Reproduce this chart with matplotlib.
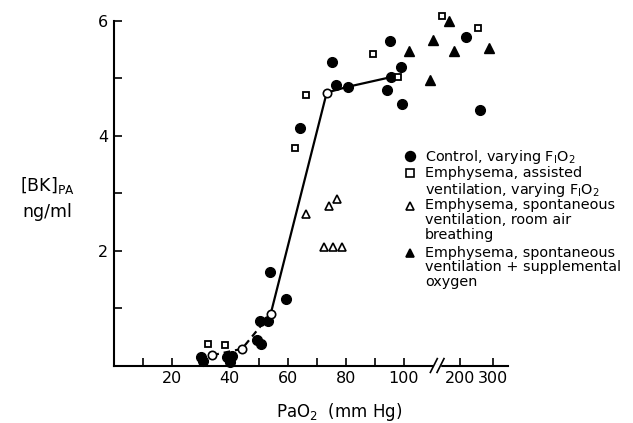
import numpy as np
import matplotlib
matplotlib.use("Agg")
import matplotlib.pyplot as plt
from matplotlib.lines import Line2D

plt.rcParams['font.family'] = ['DejaVu Sans']
plt.rcParams['mathtext.default'] = 'regular'

# control, varying FiO2 (filled circles)
control_x = [30.0, 30.8, 39.2, 40.8, 40.0, 49.3, 50.7, 50.4, 53.0, 53.9, 59.4, 64.2,
             75.2, 76.7, 80.6, 95.1, 99.1, 95.6, 94.3, 99.3, 214.6, 253.7]
control_y = [0.15, 0.07, 0.15, 0.16, 0.06, 0.44, 0.37, 0.78, 0.78, 1.63, 1.16, 4.14,
             5.28, 4.88, 4.85, 5.64, 5.20, 5.02, 4.80, 4.55, 5.72, 4.45]

# emphysema, assisted ventilation (open squares)
assisted_x = [32.6, 38.3, 62.3, 66.3, 89.3, 97.8, 159.6, 247.6]
assisted_y = [0.37, 0.35, 3.79, 4.71, 5.43, 5.03, 6.09, 5.88]

# emphysema, spontaneous, room air (open triangles)
room_air_x = [66.2, 74.3, 76.9, 72.5, 75.4, 78.6]
room_air_y = [2.63, 2.77, 2.90, 2.06, 2.06, 2.06]

# emphysema, spontaneous + O2 (filled triangles)
oxygen_x = [174.6, 142.3, 107.0, 185.6, 285.7, 137.0]
oxygen_y = [6.00, 5.66, 5.47, 5.47, 5.53, 4.97]

# mean curve (open circles + lines)
mean_x = [34.0, 44.2, 54.1, 73.4]
mean_y = [0.18, 0.29, 0.90, 4.75]
dashed_x = [34.0, 44.2, 54.1]
dashed_y = [0.18, 0.29, 0.90]
solid_x = [54.1, 73.4, 80.6, 95.6]
solid_y = [0.90, 4.75, 4.85, 5.02]

x_ticks = [10, 20, 30, 40, 50, 60, 70, 80, 90, 100, 200, 300]
x_labels = ['', '20', '', '40', '', '60', '', '80', '', '100', '200', '300']
y_ticks = [1, 2, 3, 4, 5, 6]
y_labels = ['', '2', '', '4', '', '6']

K = 28.0


def fwd(x):
    x = np.asarray(x, dtype=float)
    return np.where(x <= 100, x, 100 + K * np.log(np.clip(x, 1e-9, None) / 100))


def inv(u):
    u = np.asarray(u, dtype=float)
    return np.where(u <= 100, u, 100 * np.exp((np.clip(u, None, 400) - 100) / K))


fig = plt.figure(figsize=(6.33, 4.23), dpi=100)
ax = fig.add_axes([0.1796, 0.1359, 0.623, 0.815])
ax.set_xscale('function', functions=(fwd, inv))
ax.set_xlim(0, 360)
ax.set_ylim(0, 6)

lw = 1.6
ax.plot(dashed_x, dashed_y, color='black', lw=lw, ls=(0, (3, 2.2)), zorder=2)
ax.plot(solid_x, solid_y, color='black', lw=lw, zorder=2)

ax.plot(mean_x, mean_y, 'o', ms=6, mfc='white', mec='black', mew=1.2, zorder=4, clip_on=False)
ax.plot(control_x, control_y, 'o', ms=7, color='black', zorder=3, clip_on=False)
ax.plot(assisted_x, assisted_y, 's', ms=5, mfc='white', mec='black', mew=1.3, zorder=4, clip_on=False)
ax.plot(room_air_x, room_air_y, '^', ms=6, mfc='white', mec='black', mew=1.2, zorder=4, clip_on=False)
ax.plot(oxygen_x, oxygen_y, '^', ms=7, color='black', zorder=4, clip_on=False)

for s in ['top', 'right']:
    ax.spines[s].set_visible(False)
for s in ['left', 'bottom']:
    ax.spines[s].set_linewidth(1.5)

ax.set_xticks(x_ticks)
ax.set_xticklabels(x_labels)
ax.xaxis.set_minor_locator(matplotlib.ticker.NullLocator())
ax.set_yticks(y_ticks)
ax.set_yticklabels(y_labels)
ax.tick_params(axis='both', direction='in', length=6, width=1.2, labelsize=11.5, pad=4)

# axis break marks
for u in (110.3, 112.6):
    ax.plot([inv(u - 1.2), inv(u + 1.2)], [-0.12, 0.12], color='black', lw=1.2,
            clip_on=False, zorder=5)
ax.plot([inv(110.8), inv(112.1)], [0, 0], color='white', lw=2.5, clip_on=False, zorder=4)

ax.set_xlabel('Pa$O_2$  (mm Hg)', fontsize=12, va='center')
ax.xaxis.set_label_coords(0.571, -0.134)
ax.set_ylabel('[BK]$_{PA}$\nng/ml', fontsize=12.5, rotation=0, ha='center', va='center',
              linespacing=1.5)
ax.yaxis.set_label_coords(-0.169, 0.486)

# legend drawn by hand
fio2 = 'F$_I$O$_2$'
entries = [
    ('o', 'black', 'Control, varying ' + fio2),
    ('s', 'white', 'Emphysema, assisted\nventilation, varying ' + fio2),
    ('^', 'white', 'Emphysema, spontaneous\nventilation, room air\nbreathing'),
    ('^', 'black', 'Emphysema, spontaneous\nventilation + supplemental\noxygen'),
]
tops = [156, 173.3, 205.7, 253.3]
W, H = 633.0, 423.0
for (m, fc, label), ty in zip(entries, tops):
    fig.add_artist(Line2D([410 / W], [1 - ty / H], marker=m, ms=6 if m != 'o' else 7,
                          mfc=fc, mec='black', mew=1.2, ls='none', transform=fig.transFigure))
    fig.text(425 / W, 1 - (ty - 7.8) / H, label, fontsize=10.4, va='top', ha='left',
             linespacing=1.08)

fig.savefig('out.png', dpi=100)
